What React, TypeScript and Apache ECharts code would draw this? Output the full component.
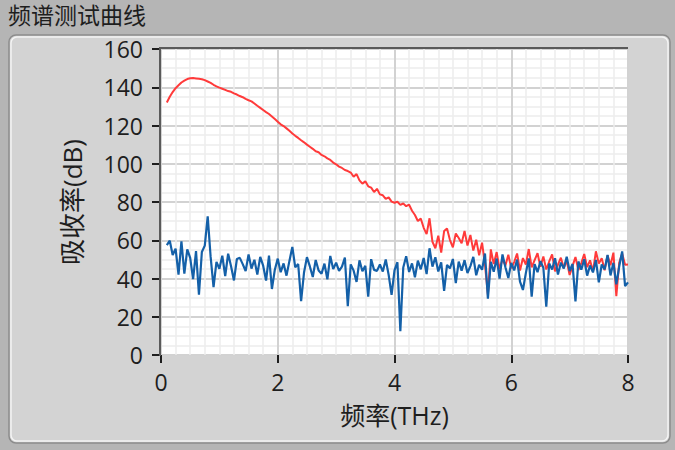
import React, { useEffect, useRef } from "react";
import * as echarts from "echarts";

// Frequency sampling (THz): first sample and step of the instrument grid
const FREQ_START = 0.1;
const FREQ_STEP = 0.05;

// Red trace (dB)
const redValues: number[] = [
  132, 135, 137.5, 139.5, 141, 142.5, 143.5, 144.3, 144.7, 144.8,
  144.6, 144.4, 144.2, 143.7, 143, 142.3, 141.3, 140.5, 139.8, 139.2,
  138.6, 138, 137.6, 136.8, 136.2, 135.4, 134.8, 133.9, 133.2, 132.6,
  131.5, 130.3, 129.2, 128.1, 127, 126, 124.7, 123.4, 122, 120.6,
  119.7, 118.5, 117.2, 115.8, 114.6, 113.5, 112.3, 111.2, 110, 108.9,
  107.8, 106.5, 106, 104.6, 103.9, 102.8, 102, 100.6, 99.7, 98.5,
  97.8, 96.7, 96.2, 95.4, 93.2, 94.6, 91.3, 89.6, 90.8, 88.2,
  87.5, 85.2, 86.9, 84, 83.5, 81.6, 82.4, 80.2, 79.6, 80.1,
  78.5, 79.2, 77.8, 78.6, 75.4, 73.2, 70.1, 71.3, 66.5, 63.2,
  71.5, 59.2, 55.8, 62.4, 53.6, 64.8, 66.2, 60.1, 56.3, 63.5,
  61.2, 58.4, 64.9, 57.2, 62.8, 54.6, 60.3, 52.1, 58.7, 47.3,
  31.5, 55.2, 47.6, 53.8, 44.9, 50.2, 46.8, 52.4, 45.3, 48.6,
  53.1, 44.2, 50.7, 47.3, 55.4, 45.8, 49.6, 53.2, 46.1, 51.5,
  44.7, 48.9, 52.6, 43.8, 47.2, 50.9, 45.5, 49.3, 41.8, 46.6,
  51.2, 44.4, 48.1, 52.8, 45.9, 49.5, 43.6, 54.2, 47.8, 50.6,
  44.3, 52.1, 46.9, 53.5, 30.8, 48.4, 53.1, 47.2, 47.3,
];

// Blue trace (dB)
const blueValues: number[] = [
  57.5, 59.8, 52.3, 55.6, 42, 59.4, 42.6, 55.2, 50.8, 39.7,
  54.3, 31.5, 53.9, 57.2, 72.5, 51.4, 35.5, 48.7, 45.1, 51.9,
  41.3, 53, 46.4, 39, 50.2, 50.8, 47.5, 43.9, 52.6, 45.2,
  49.8, 42.1, 51.3, 46.7, 38.9, 52, 34.5, 44.6, 50.4, 43.3,
  47.9, 41.5, 49.2, 56.5, 45.8, 47.6, 28.2, 43.1, 51.2, 46.3,
  40.8, 49.7, 44.2, 42.5, 47.8, 39.6, 51.8, 44.9, 48.3, 44,
  46.2, 50.9, 25.5, 47.4, 44.1, 38.2, 49.5, 43.8, 46.6, 30.5,
  50.1, 44.5, 44, 47.3, 43.6, 49.9, 41.9, 31.5, 44.3, 48.5,
  12.5, 45.7, 51.6, 43.4, 47.9, 40.6, 49.3, 44.8, 50.7, 42.3,
  55.8, 46.2, 51.1, 43.7, 48.4, 33.5, 47.1, 45.3, 50.2, 37.6,
  48.8, 44.1, 49.6, 42.9, 46.5, 51.3, 41.7, 47.2, 44.6, 53.1,
  29.4, 48.7, 43.5, 50.4, 40, 52.6, 45.9, 40.3, 48.1, 44.2,
  49.9, 38.4, 34, 42.8, 50.5, 30.5, 47.5, 43.3, 49.1, 45.6,
  25.3, 47.8, 44.7, 50.6, 42.1, 48.3, 45.2, 51.4, 43.9, 47.6,
  28, 48.9, 44.6, 50.1, 41.5, 46.8, 43.2, 49.7, 38, 47.3,
  44.8, 52.3, 41.6, 48.2, 36.9, 46.4, 54.2, 36, 38,
];

const xTicks = { min: 0, max: 8, interval: 2 };
const yTicks = { min: 0, max: 160, interval: 20 };

const TITLE = "频谱测试曲线";
const X_NAME = "频率(THz)";
const Y_NAME = "吸收率(dB)";

const FONT = "'Open Sans', 'Noto Sans CJK SC', sans-serif";

function toPairs(values: number[]): [number, number][] {
  return values.map((v, i) => [
    Math.round((FREQ_START + i * FREQ_STEP) * 1000) / 1000,
    v,
  ]);
}

export default function App() {
  const ref = useRef<HTMLDivElement>(null);

  useEffect(() => {
    if (!ref.current) return;
    const chart = echarts.init(ref.current, null, { renderer: "svg" });

    const G = { left: 161, top: 49, width: 467, height: 306 };

    chart.setOption({
      animation: false,
      backgroundColor: "#b5b5b5",
      textStyle: { fontFamily: FONT },
      grid: {
        left: G.left,
        top: G.top,
        width: G.width,
        height: G.height,
        show: true,
        backgroundColor: "#ffffff",
        borderWidth: 0,
      },
      graphic: [
        {
          type: "rect",
          z: -20,
          shape: { x: 9, y: 35, width: 661, height: 408, r: 7 },
          style: { fill: "#d3d3d3", stroke: "#8c8c8c", lineWidth: 1.5 },
        },
        {
          type: "rect",
          z: -19,
          shape: { x: 11, y: 37, width: 657, height: 404, r: 6 },
          style: { fill: "none", stroke: "#f4f4f4", lineWidth: 1.5 },
        },
        {
          type: "text",
          left: 8,
          top: 3,
          style: {
            text: TITLE,
            fontSize: 23,
            fontFamily: FONT,
            fill: "#1e1e1e",
          },
        },
        {
          type: "polyline",
          z: 10,
          shape: {
            points: [
              [G.left - 1, G.top + G.height + 1],
              [G.left - 1, G.top - 1],
              [G.left + G.width, G.top - 1],
            ],
          },
          style: { stroke: "#5a5a5a", lineWidth: 2, fill: "none" },
        },
      ],
      xAxis: {
        type: "value",
        min: xTicks.min,
        max: xTicks.max,
        interval: xTicks.interval,
        offset: 5,
        name: X_NAME,
        nameLocation: "middle",
        nameGap: 42,
        nameTextStyle: { fontSize: 25, color: "#1e1e1e", fontFamily: FONT },
        axisLine: { show: false },
        axisTick: {
          show: true,
          length: 8,
          lineStyle: { color: "#1e1e1e", width: 2 },
        },
        axisLabel: {
          fontSize: 23,
          color: "#1e1e1e",
          margin: 10,
          fontFamily: FONT,
        },
        splitLine: { show: true, lineStyle: { color: "#d2d2d2", width: 2 } },
        minorTick: { show: false, splitNumber: 8 },
        minorSplitLine: {
          show: true,
          lineStyle: { color: "#ececec", width: 1.5 },
        },
      },
      yAxis: {
        type: "value",
        min: yTicks.min,
        max: yTicks.max,
        interval: yTicks.interval,
        offset: 4,
        name: Y_NAME,
        nameLocation: "middle",
        nameRotate: 90,
        nameGap: 72,
        nameTextStyle: { fontSize: 26, color: "#1e1e1e", fontFamily: FONT },
        axisLine: { show: false },
        axisTick: {
          show: true,
          length: 9,
          lineStyle: { color: "#1e1e1e", width: 2 },
        },
        axisLabel: {
          fontSize: 23,
          color: "#1e1e1e",
          margin: 14,
          fontFamily: FONT,
        },
        splitLine: { show: true, lineStyle: { color: "#d2d2d2", width: 2 } },
        minorTick: { show: false, splitNumber: 4 },
        minorSplitLine: {
          show: true,
          lineStyle: { color: "#ececec", width: 1.5 },
        },
      },
      series: [
        {
          name: "red",
          type: "line",
          data: toPairs(redValues),
          showSymbol: false,
          lineStyle: { color: "#ff3a3a", width: 2 },
          itemStyle: { color: "#ff3a3a" },
          z: 2,
        },
        {
          name: "blue",
          type: "line",
          data: toPairs(blueValues),
          showSymbol: false,
          lineStyle: { color: "#1460a8", width: 2.2 },
          itemStyle: { color: "#1460a8" },
          z: 3,
        },
      ],
    });

    return () => chart.dispose();
  }, []);

  return (
    <div
      ref={ref}
      style={{
        position: "fixed",
        left: 0,
        top: 0,
        width: "675px",
        height: "450px",
      }}
    />
  );
}
